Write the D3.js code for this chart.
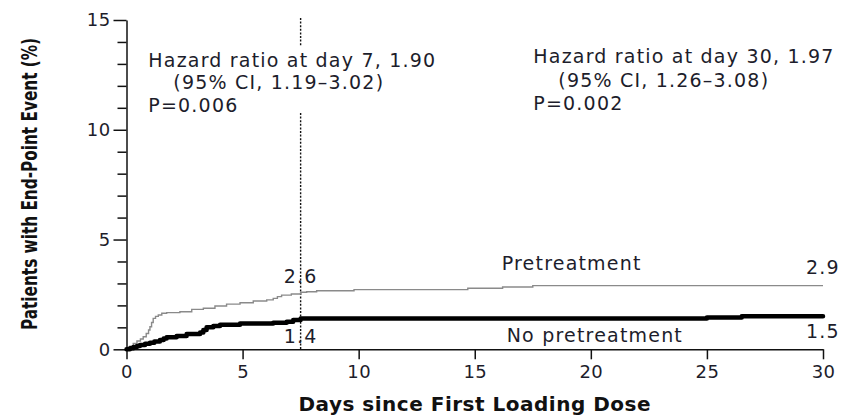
<!DOCTYPE html>
<html>
<head>
<meta charset="utf-8">
<script src="https://cdn.jsdelivr.net/npm/d3@7"></script>
<style>
  html, body { margin: 0; padding: 0; background: #fff; }
  svg { display: block; }
  .lbl { font-family: "DejaVu Sans", sans-serif; font-size: 19px; letter-spacing: 1.2px; fill: #1d1d2b; }
  .tick text { font-family: "DejaVu Sans", sans-serif; font-size: 18px; letter-spacing: 0.4px; fill: #1d1d2b; }
</style>
</head>
<body>
<svg id="chart" width="841" height="418"></svg>
<script>
// Kaplan-Meier cumulative incidence (%) by day since first loading dose
const pretreatDays   = [0, 0.15, 0.29, 0.45, 0.60, 0.72, 0.85, 0.95, 1.01, 1.08, 1.15, 1.25, 1.37, 1.52, 1.73, 2.30, 2.81, 3.31, 3.81, 4.31, 4.89, 5.46, 6.04, 6.32, 6.50, 6.68, 7.10, 7.50, 7.76, 8.19, 9.80, 14.7, 16.2, 17.5, 30];
const pretreatPct    = [0, 0.14, 0.27, 0.38, 0.47, 0.57, 0.72, 0.88, 1.03, 1.22, 1.41, 1.50, 1.56, 1.64, 1.67, 1.71, 1.82, 1.87, 1.97, 2.06, 2.12, 2.20, 2.25, 2.32, 2.40, 2.47, 2.52, 2.60, 2.62, 2.67, 2.72, 2.78, 2.84, 2.90, 2.90];
const noPretreatDays = [0, 0.15, 0.30, 0.45, 0.58, 0.80, 1.01, 1.20, 1.44, 1.60, 1.73, 2.16, 2.59, 3.17, 3.31, 3.45, 3.74, 4.03, 4.89, 6.32, 6.90, 7.18, 7.50, 25.0, 26.5, 30];
const noPretreatPct  = [0, 0.05, 0.10, 0.15, 0.20, 0.25, 0.30, 0.36, 0.42, 0.49, 0.55, 0.61, 0.70, 0.76, 0.88, 1.00, 1.06, 1.12, 1.18, 1.21, 1.26, 1.33, 1.40, 1.45, 1.50, 1.50];

const xTicks = [0, 5, 10, 15, 20, 25, 30];
const yTicks = [0, 5, 10, 15];
const yMinorTicks = [1, 2, 3, 4, 6, 7, 8, 9, 11, 12, 13, 14];
const landmarkDay = 7.5;

const hazard7  = ["Hazard ratio at day 7, 1.90", "(95% CI, 1.19\u20133.02)", "P=0.006"];
const hazard30 = ["Hazard ratio at day 30, 1.97", "(95% CI, 1.26\u20133.08)", "P=0.002"];

const svg = d3.select("#chart");
const x = d3.scaleLinear().domain([0, 30]).range([126.5, 823]);
const y = d3.scaleLinear().domain([0, 15]).range([349.3, 20]);

// axes
const ax = svg.append("g").attr("transform", `translate(0,${y(0)})`)
  .call(d3.axisBottom(x).tickValues(xTicks).tickSize(10).tickSizeOuter(0).tickPadding(6));
const ay = svg.append("g").attr("transform", `translate(${x(0)},0)`)
  .call(d3.axisLeft(y).tickValues(yTicks).tickSize(13).tickSizeOuter(0).tickPadding(3));
const ayMinor = svg.append("g").attr("transform", `translate(${x(0)},0)`)
  .call(d3.axisLeft(y).tickValues(yMinorTicks).tickSize(9).tickSizeOuter(0).tickFormat(""));
ayMinor.select(".domain").remove();
[ax, ay, ayMinor].forEach(g => {
  g.selectAll("path, line").attr("stroke", "#111").attr("stroke-width", 1.5);
});

// landmark line at day 7.5, interrupted by the annotation block
const lm = svg.append("g").attr("stroke", "#111").attr("stroke-width", 1.4).attr("stroke-dasharray", "2,1.6");
lm.append("line").attr("x1", x(landmarkDay)).attr("x2", x(landmarkDay)).attr("y1", y(15) - 2).attr("y2", 46);
lm.append("line").attr("x1", x(landmarkDay)).attr("x2", x(landmarkDay)).attr("y1", 113).attr("y2", y(0));

// curves
const line = d3.line().x(d => x(d[0])).y(d => y(d[1])).curve(d3.curveStepAfter);
svg.append("path").datum(d3.zip(pretreatDays, pretreatPct))
  .attr("d", line).attr("fill", "none").attr("stroke", "#8a8a8a").attr("stroke-width", 1.4);
svg.append("path").datum(d3.zip(noPretreatDays, noPretreatPct))
  .attr("d", line).attr("fill", "none").attr("stroke", "#000").attr("stroke-width", 4.5)
  .attr("stroke-linecap", "round").attr("stroke-linejoin", "round");

// value labels
function valueAt(days, pct, d) { return pct[d3.bisectRight(days, d) - 1]; }
const lbl = (tx, ty, s, anchor) => svg.append("text").attr("class", "lbl")
  .attr("x", tx).attr("y", ty).attr("text-anchor", anchor || "start").text(s);

lbl(x(landmarkDay), y(valueAt(pretreatDays, pretreatPct, landmarkDay)) - 9, valueAt(pretreatDays, pretreatPct, landmarkDay).toFixed(1), "middle");
lbl(x(landmarkDay), y(valueAt(noPretreatDays, noPretreatPct, landmarkDay)) + 24, valueAt(noPretreatDays, noPretreatPct, landmarkDay).toFixed(1), "middle");
lbl(x(30), y(pretreatPct[pretreatPct.length - 1]) - 12, pretreatPct[pretreatPct.length - 1].toFixed(1), "middle");
lbl(x(30), y(noPretreatPct[noPretreatPct.length - 1]) + 22, noPretreatPct[noPretreatPct.length - 1].toFixed(1), "middle");
lbl(501.7, 270, "Pretreatment");
lbl(506.7, 341.7, "No pretreatment");

// hazard ratio annotations
const indents = [0, 25, 0];
hazard7.forEach((s, i) => lbl(148.3 + indents[i], 66.7 + i * 22.5, s));
hazard30.forEach((s, i) => lbl(533.3 + indents[i], 63.3 + i * 23.3, s));

// axis titles (y title drawn in a condensed face, stretched slightly across its baseline)
svg.append("text").attr("transform", "translate(37,184) rotate(-90) scale(1,1.2)")
  .attr("text-anchor", "middle")
  .style("font-family", '"DejaVu Sans Condensed", "DejaVu Sans", sans-serif')
  .style("font-weight", "bold").style("font-size", "17px").style("fill", "#111")
  .text("Patients with End-Point Event (%)");
svg.append("text").attr("x", (x(0) + x(30)) / 2).attr("y", 411)
  .attr("text-anchor", "middle")
  .style("font-family", '"DejaVu Sans", sans-serif')
  .style("font-weight", "bold").style("font-size", "20px").style("letter-spacing", "0.5px").style("fill", "#111")
  .text("Days since First Loading Dose");
</script>
</body>
</html>
